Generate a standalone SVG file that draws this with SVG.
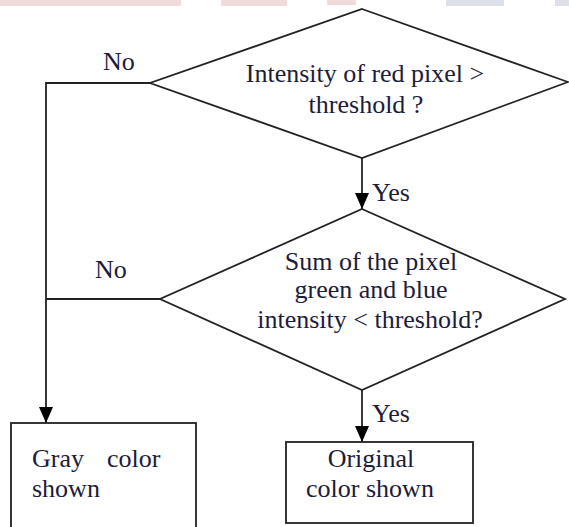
<svg xmlns="http://www.w3.org/2000/svg" width="569" height="527" viewBox="0 0 569 527">
<style>
.shape{fill:#fff;stroke:#222;stroke-width:1.8}
.line{fill:none;stroke:#222;stroke-width:1.8}
.t{font-family:"Liberation Serif","Times New Roman",serif;font-size:26px;fill:#1c1c3c}
.c{text-anchor:middle}
</style>
<defs>
<marker id="ah" viewBox="0 0 16 14" refX="16" refY="7" markerWidth="16" markerHeight="14" markerUnits="userSpaceOnUse" orient="auto">
<path d="M0,0 L16,7 L0,14 z" fill="#000"/>
</marker>
</defs>
<rect width="569" height="527" fill="#fff"/>
<g id="band">
<rect x="0" y="0" width="181" height="6" fill="#f1dada"/>
<rect x="221" y="0" width="66" height="6" fill="#f1dada"/>
<rect x="327" y="0" width="29" height="5" fill="#f1dada"/>
<rect x="446" y="0" width="58" height="6" fill="#dde0e8"/>
<rect x="555" y="0" width="14" height="6" fill="#dde0e8"/>
</g>
<g id="connectors">
<line class="line" x1="362" y1="158" x2="362" y2="209" marker-end="url(#ah)"/>
<polyline class="line" points="150,83 46,83 46,423" marker-end="url(#ah)"/>
<line class="line" x1="160" y1="299" x2="46" y2="299"/>
<line class="line" x1="362" y1="390" x2="362" y2="442" marker-end="url(#ah)"/>
<text class="t" x="103" y="70">No</text>
<text class="t" x="95" y="278">No</text>
<text class="t" x="372" y="201">Yes</text>
<text class="t" x="372" y="422">Yes</text>
</g>
<g id="decision1">
<polygon class="shape" points="362,9 568,82 362,158 150,83"/>
<text class="t c" x="365" y="82">Intensity of red pixel &gt;</text>
<text class="t c" x="366" y="113">threshold ?</text>
</g>
<g id="decision2">
<polygon class="shape" points="362,209 565,299 362,390 160,299"/>
<text class="t c" x="371" y="270">Sum of the pixel</text>
<text class="t c" x="371" y="298">green and blue</text>
<text class="t c" x="370" y="328">intensity &lt; threshold?</text>
</g>
<g id="gray">
<rect class="shape" x="11" y="423" width="185" height="110"/>
<text class="t" x="32" y="467">Gray</text>
<text class="t" x="107" y="467">color</text>
<text class="t" x="32" y="497">shown</text>
</g>
<g id="original">
<rect class="shape" x="286" y="442" width="187" height="81"/>
<text class="t c" x="371" y="467">Original</text>
<text class="t c" x="370" y="497">color shown</text>
</g>
</svg>
